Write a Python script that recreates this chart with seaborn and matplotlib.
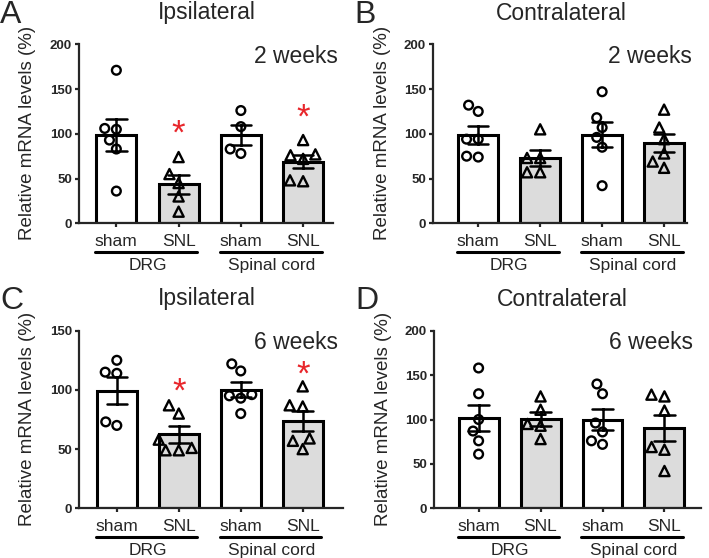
import numpy as np
import pandas as pd
import seaborn as sns
from matplotlib import pyplot as plt

W, H = 709, 558

groups = ['DRG sham', 'DRG SNL', 'SC sham', 'SC SNL']
tick_labels = ['sham', 'SNL', 'sham', 'SNL']
fill_colors = ['white', '#dcdcdc', 'white', '#dcdcdc']

# A - ipsilateral, 2 weeks
ipsi_2w_drg_sham = [171, 105, 106, 93, 83, 36]
ipsi_2w_drg_snl = [74, 55, 45, 30, 13]
ipsi_2w_sc_sham = [126, 108, 83, 78]
ipsi_2w_sc_snl = [93, 77, 76, 72, 48, 47]
ipsi_2w_stars = [(1, 100), (3, 117)]

# B - contralateral, 2 weeks
contra_2w_drg_sham = [132, 125, 94, 94, 75, 74]
contra_2w_drg_snl = [105, 73, 73, 57, 57]
contra_2w_sc_sham = [147, 118, 107, 96, 85, 42]
contra_2w_sc_snl = [127, 107, 94, 78, 69, 62]

# C - ipsilateral, 6 weeks
ipsi_6w_drg_sham = [125, 115, 114, 73, 70]
ipsi_6w_drg_snl = [87, 80, 58, 51, 49, 49]
ipsi_6w_sc_sham = [122, 116, 96, 95, 93, 80]
ipsi_6w_sc_snl = [103, 87, 86, 59, 57, 50]
ipsi_6w_stars = [(1, 98.5), (3, 112.5)]

# D - contralateral, 6 weeks
contra_6w_drg_sham = [158, 129, 100, 87, 76, 61]
contra_6w_drg_snl = [126, 111, 95, 93, 78]
contra_6w_sc_sham = [140, 129, 96, 86, 76, 72]
contra_6w_sc_snl = [128, 126, 110, 69, 66, 42]

sns.set_theme(style='ticks')
plt.rcParams['font.family'] = ['Liberation Sans', 'DejaVu Sans']


def fx(x):
    return x / W


def fy(y):
    return 1 - y / H


def draw_panel(fig, box, xlim, ymax, values, stars, letter, title, weeks, top):
    left, t, right, b = box
    ax = fig.add_axes([fx(left), fy(b), (right - left) / W, (b - t) / H])

    df = pd.DataFrame({
        'group': np.repeat(groups, [len(v) for v in values]),
        'value': np.concatenate(values).astype(float),
    })
    sns.barplot(df, x='group', y='value', hue='group', order=groups, hue_order=groups,
                palette=dict(zip(groups, fill_colors)), errorbar='se', capsize=0.33,
                width=0.645, edgecolor='black', linewidth=2.2,
                err_kws={'color': 'black', 'linewidth': 1.8}, legend=False, ax=ax)
    sham = df[df['group'].str.endswith('sham')]
    snl = df[df['group'].str.endswith('SNL')]
    sns.swarmplot(sham, x='group', y='value', order=groups, color='black',
                  marker='o', size=6.3, ax=ax)
    sns.swarmplot(snl, x='group', y='value', order=groups, color='black',
                  marker='^', size=7.3, ax=ax)
    for coll in ax.collections:
        coll.set_facecolor('none')
        coll.set_edgecolor('black')
        coll.set_linewidth(1.7)

    for i, y in stars:
        ax.text(i, y, '*', color='#e8262b', fontsize=25, ha='center', va='center')

    ax.set_xlim(xlim)
    ax.set_ylim(0, ymax)
    ax.set_yticks(np.arange(0, ymax + 1, 50))
    ax.set_yticklabels([str(v) for v in np.arange(0, ymax + 1, 50)],
                       fontsize=9.5, fontweight='bold')
    ax.set_xticks(range(4))
    ax.set_xticklabels(tick_labels, fontsize=12.5)
    ax.set_xlabel('')
    ax.set_ylabel('')
    sns.despine(ax=ax)
    for s in ['left', 'bottom']:
        ax.spines[s].set_linewidth(1.6)
    ax.tick_params(axis='x', length=3, width=1.6, pad=4.5)
    ax.tick_params(axis='y', length=3, width=1.6, pad=2)

    # group underlines and labels
    tr = ax.get_xaxis_transform()
    for (a, c), name in zip([(0, 1), (2, 3)], ['DRG', 'Spinal cord']):
        ax.plot([a - 0.34, c + 0.3], [-0.16, -0.16], color='black', lw=2.2,
                transform=tr, clip_on=False)
        ax.text((a + c) / 2, -0.235, name, fontsize=12.5, ha='center', va='center',
                transform=tr)

    # panel letter, title, time label, y label
    fig.text(fx(left - 79), fy(top + 15), letter, fontsize=23, ha='left', va='center')
    fig.text(fx(left + 128), fy(top + 13), title, fontsize=16.5, ha='center', va='center')
    fig.text(fx(left + 259), fy(t + 12), weeks, fontsize=16.5, ha='right', va='center')
    fig.text(fx(left - 51), fy((t + b) / 2 - 1), 'Relative mRNA levels (%)', fontsize=13.5,
             rotation=90, ha='center', va='center')
    return ax


fig = plt.figure(figsize=(W / 100, H / 100), dpi=100)

draw_panel(fig, (79, 44.3, 333, 223.3), (-0.6, 3.48), 200,
           [ipsi_2w_drg_sham, ipsi_2w_drg_snl, ipsi_2w_sc_sham, ipsi_2w_sc_snl],
           ipsi_2w_stars, 'A', 'Ipsilateral', '2 weeks', 0)
draw_panel(fig, (433, 44.3, 687, 223.3), (-0.73, 3.37), 200,
           [contra_2w_drg_sham, contra_2w_drg_snl, contra_2w_sc_sham, contra_2w_sc_snl],
           [], 'B', 'Contralateral', '2 weeks', 0)
draw_panel(fig, (79, 330.7, 343, 508.3), (-0.61, 3.65), 150,
           [ipsi_6w_drg_sham, ipsi_6w_drg_snl, ipsi_6w_sc_sham, ipsi_6w_sc_snl],
           ipsi_6w_stars, 'C', 'Ipsilateral', '6 weeks', 286)
draw_panel(fig, (434, 330.7, 701, 508.3), (-0.72, 3.59), 200,
           [contra_6w_drg_sham, contra_6w_drg_snl, contra_6w_sc_sham, contra_6w_sc_snl],
           [], 'D', 'Contralateral', '6 weeks', 286)

fig.savefig('out.png', dpi=100)
